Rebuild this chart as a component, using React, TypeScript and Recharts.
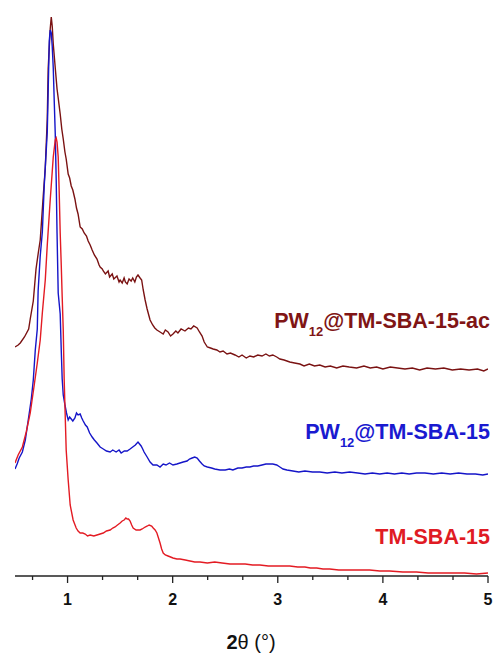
import React from "react"
import { LineChart, Line, XAxis, YAxis } from "recharts"

// 2θ (deg) vs intensity (a.u.)
const acScan: [number, number][] = [
  [0.50, 229], [0.53, 231], [0.55, 233], [0.59, 239], [0.63, 247], [0.645, 257], [0.674, 275], [0.70, 307],
  [0.72, 322], [0.74, 336], [0.77, 382], [0.788, 408], [0.807, 457], [0.816, 508], [0.835, 547], [0.845, 559],
  [0.854, 550], [0.864, 532], [0.883, 508], [0.90, 487], [0.911, 478], [0.93, 462], [0.945, 447], [0.959, 437],
  [0.975, 424], [0.987, 417], [1.006, 402], [1.02, 398], [1.035, 390], [1.05, 386], [1.07, 377], [1.085, 368],
  [1.10, 362], [1.12, 349], [1.14, 347], [1.158, 343], [1.18, 340], [1.196, 335], [1.215, 331], [1.234, 326],
  [1.255, 321], [1.28, 317], [1.30, 311], [1.31, 309], [1.33, 307], [1.34, 305], [1.36, 302], [1.386, 305],
  [1.40, 299], [1.425, 302], [1.44, 297], [1.47, 300], [1.49, 294], [1.50, 296], [1.52, 293], [1.538, 298],
  [1.55, 294], [1.567, 292], [1.585, 297], [1.605, 295], [1.62, 298], [1.64, 294], [1.655, 299], [1.67, 301],
  [1.69, 298], [1.705, 296], [1.72, 286], [1.738, 276], [1.757, 267], [1.785, 256], [1.81, 251], [1.83, 248],
  [1.85, 246], [1.88, 244], [1.91, 242], [1.93, 246], [1.956, 244], [1.98, 240], [2.003, 242], [2.03, 245],
  [2.05, 243], [2.08, 247], [2.117, 245], [2.15, 248], [2.174, 247], [2.20, 250], [2.233, 248], [2.255, 244],
  [2.28, 240], [2.30, 234], [2.33, 229], [2.36, 228], [2.385, 227], [2.42, 226], [2.45, 224], [2.48, 225],
  [2.517, 222], [2.55, 223], [2.593, 221], [2.63, 219], [2.66, 221], [2.70, 218], [2.735, 220], [2.77, 219],
  [2.81, 221], [2.85, 220], [2.887, 222], [2.92, 220], [2.953, 221], [2.99, 219], [3.02, 217], [3.06, 216],
  [3.114, 214], [3.16, 213], [3.21, 212], [3.25, 210], [3.30, 212], [3.35, 210], [3.40, 211], [3.45, 209],
  [3.50, 210], [3.56, 208], [3.62, 210], [3.68, 209], [3.75, 208], [3.82, 210], [3.88, 208], [3.94, 209],
  [4.00, 207], [4.07, 209], [4.14, 208], [4.21, 207], [4.28, 208], [4.35, 206], [4.42, 208], [4.50, 207],
  [4.58, 208], [4.66, 206], [4.74, 207], [4.82, 206], [4.90, 207], [4.96, 205], [5.0, 207],
]

const pwScan: [number, number][] = [
  [0.50, 107], [0.52, 112], [0.54, 118], [0.57, 124], [0.598, 136], [0.626, 156], [0.655, 177], [0.674, 196],
  [0.693, 226], [0.712, 247], [0.72, 285], [0.74, 320], [0.76, 344], [0.778, 390], [0.807, 444], [0.816, 487],
  [0.826, 535], [0.835, 546], [0.845, 543], [0.854, 530], [0.864, 508], [0.873, 476], [0.883, 442], [0.892, 396],
  [0.90, 343], [0.911, 283], [0.93, 262], [0.94, 226], [0.949, 197], [0.959, 181], [0.977, 170], [0.99, 163],
  [1.006, 156], [1.02, 159], [1.035, 157], [1.05, 155], [1.07, 158], [1.085, 163], [1.10, 161], [1.12, 162],
  [1.135, 158], [1.149, 155], [1.17, 151], [1.187, 149], [1.21, 143], [1.234, 139], [1.255, 136], [1.28, 133],
  [1.31, 129], [1.34, 127], [1.37, 125], [1.405, 124], [1.43, 126], [1.462, 124], [1.49, 126], [1.51, 123],
  [1.54, 125], [1.567, 125], [1.595, 127], [1.62, 129], [1.645, 131], [1.67, 134], [1.685, 132], [1.70, 130],
  [1.715, 127], [1.728, 124], [1.757, 119], [1.785, 114], [1.813, 111], [1.85, 111], [1.88, 109], [1.91, 112],
  [1.937, 111], [1.97, 113], [2.003, 111], [2.04, 112], [2.07, 113], [2.10, 114], [2.137, 115], [2.16, 117],
  [2.185, 118], [2.21, 119], [2.233, 118], [2.255, 115], [2.28, 112], [2.30, 110], [2.33, 109], [2.37, 108],
  [2.40, 107], [2.45, 106], [2.50, 106], [2.54, 107], [2.573, 106], [2.62, 108], [2.66, 108], [2.70, 109],
  [2.735, 109], [2.77, 110], [2.81, 110], [2.85, 111], [2.887, 112], [2.92, 112], [2.953, 112], [2.99, 111],
  [3.02, 109], [3.05, 107], [3.087, 106], [3.144, 105], [3.20, 104], [3.258, 105], [3.33, 104], [3.40, 104],
  [3.47, 103], [3.543, 104], [3.61, 103], [3.684, 104], [3.76, 103], [3.83, 102], [3.90, 103], [3.97, 102],
  [4.04, 103], [4.11, 102], [4.18, 103], [4.25, 102], [4.32, 103], [4.40, 103], [4.48, 102], [4.56, 103],
  [4.64, 102], [4.72, 103], [4.80, 102], [4.88, 102], [4.95, 101], [5.0, 102],
]

const tmScan: [number, number][] = [
  [0.50, 113], [0.53, 121], [0.57, 129], [0.607, 144], [0.645, 163], [0.683, 191], [0.712, 213], [0.74, 236],
  [0.76, 263], [0.788, 296], [0.807, 331], [0.835, 376], [0.854, 404], [0.864, 419], [0.883, 436], [0.892, 438],
  [0.90, 434], [0.911, 419], [0.92, 386], [0.93, 343], [0.94, 311], [0.949, 279], [0.959, 246], [0.968, 196],
  [0.977, 163], [0.987, 126], [1.006, 96], [1.025, 71], [1.053, 56], [1.082, 48], [1.10, 45], [1.12, 43],
  [1.145, 43], [1.168, 42], [1.19, 40], [1.215, 41], [1.25, 40], [1.28, 41], [1.31, 42], [1.34, 43],
  [1.37, 45], [1.405, 46], [1.43, 48], [1.452, 49], [1.475, 51], [1.50, 53], [1.52, 55], [1.538, 56],
  [1.555, 58], [1.567, 57], [1.58, 57], [1.595, 55], [1.61, 51], [1.624, 48], [1.652, 46], [1.67, 46],
  [1.69, 46], [1.71, 47], [1.738, 49], [1.76, 50], [1.776, 51], [1.80, 50], [1.815, 48], [1.833, 46],
  [1.85, 43], [1.865, 38], [1.88, 33], [1.895, 27], [1.91, 23], [1.93, 21], [1.956, 20], [1.98, 19],
  [2.003, 18], [2.04, 17], [2.07, 17], [2.12, 16], [2.165, 15], [2.21, 14], [2.26, 14], [2.33, 13],
  [2.40, 14], [2.47, 13], [2.545, 12], [2.62, 12], [2.69, 12], [2.76, 11], [2.83, 11], [2.91, 10],
  [2.993, 10], [3.05, 10], [3.114, 10], [3.19, 9], [3.258, 9], [3.31, 8], [3.37, 8], [3.43, 7],
  [3.494, 7], [3.58, 6], [3.684, 6], [3.78, 6], [3.874, 6], [3.97, 5], [4.064, 5], [4.19, 4],
  [4.32, 4], [4.43, 3], [4.54, 3], [4.66, 3], [4.777, 3], [4.89, 2], [5.0, 3],
]

const majorTicks = [1, 2, 3, 4, 5]
const minorTicks = [0.667, 1.333, 1.667, 2.333, 2.667, 3.333, 3.667, 4.333, 4.667]

const FONT = '"Liberation Sans", Arial, sans-serif'
const AXIS = "#222222"

const toRows = (scan: [number, number][]) => scan.map(([x, v]) => ({ x, v }))

function AxisTick({ x, y, payload }: any) {
  const v = payload.value
  const major = majorTicks.includes(v)
  return (
    <g>
      <line x1={x} y1={y} x2={x} y2={y + (major ? 7 : 4)} stroke={AXIS} strokeWidth={1.3} />
      {major && (
        <text x={x} y={y + 29} textAnchor="middle" fontFamily={FONT} fontWeight="bold" fontSize={16} fill="#111">
          {v}
        </text>
      )}
    </g>
  )
}

function SampleLabel({ y, color, sub, text }: { y: number; color: string; sub?: boolean; text: string }) {
  return (
    <text x={490} y={y} textAnchor="end" fontFamily={FONT} fontWeight="bold" fontSize={21.5} fill={color}>
      {sub ? (
        <>
          <tspan>PW</tspan>
          <tspan fontSize={13} dy={8}>12</tspan>
          <tspan dy={-8}>{text}</tspan>
        </>
      ) : (
        text
      )}
    </text>
  )
}

export default function App() {
  const ticks = [...majorTicks, ...minorTicks].sort((a, b) => a - b)

  return (
    <div style={{ position: "absolute", left: 0, top: 0, width: 496, height: 654, background: "#fff" }}>
      <LineChart width={496} height={654} margin={{ top: 16, right: 8, bottom: 28, left: 15 }}>
        <XAxis
          dataKey="x"
          type="number"
          domain={[0.5, 5]}
          ticks={ticks}
          interval={0}
          allowDataOverflow
          height={50}
          tickSize={0}
          tickMargin={0}
          tick={<AxisTick />}
          axisLine={{ stroke: AXIS, strokeWidth: 1.4 }}
        />
        <YAxis hide type="number" domain={[0, 560]} allowDataOverflow />
        <Line data={toRows(acScan)} dataKey="v" type="linear" stroke="#7a1212" strokeWidth={1.4} dot={false} isAnimationActive={false} />
        <Line data={toRows(pwScan)} dataKey="v" type="linear" stroke="#1515c8" strokeWidth={1.4} dot={false} isAnimationActive={false} />
        <Line data={toRows(tmScan)} dataKey="v" type="linear" stroke="#e31b23" strokeWidth={1.4} dot={false} isAnimationActive={false} />
      </LineChart>
      <svg width={496} height={654} style={{ position: "absolute", left: 0, top: 0, pointerEvents: "none" }}>
        <SampleLabel y={328} color="#801515" sub text="@TM-SBA-15-ac" />
        <SampleLabel y={439} color="#1a1ad0" sub text="@TM-SBA-15" />
        <SampleLabel y={544} color="#e01b24" text="TM-SBA-15" />
        <text x={251} y={649} textAnchor="middle" fontFamily={FONT} fontSize={20} fill="#111">
          <tspan fontWeight="bold">2</tspan>
          <tspan>θ (°)</tspan>
        </text>
      </svg>
    </div>
  )
}
